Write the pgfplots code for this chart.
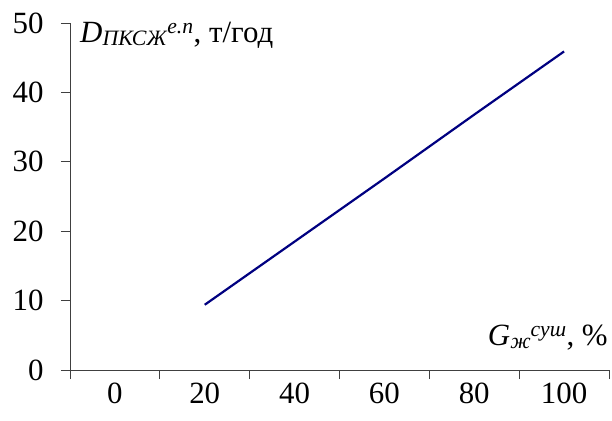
\documentclass[border=0pt]{standalone}
\usepackage{fontspec}
\setmainfont{Liberation Serif}
\usepackage{pgfplots}
\pgfplotsset{compat=1.18}
\definecolor{navyline}{RGB}{0,0,128}
\definecolor{axisgray}{RGB}{64,64,64}
\begin{document}
\fontsize{31}{36}\selectfont
\begin{tikzpicture}
\useasboundingbox (-70bp,-51bp) rectangle (542bp,370bp);
\begin{axis}[
  at={(0,0)}, anchor=south west,
  scale only axis, width=539bp, height=347bp,
  xmin=-0.5, xmax=5.5, ymin=0, ymax=50,
  axis lines=left,
  axis line style={draw=axisgray, line width=0.9bp, -},
  ytick={0,10,20,30,40,50},
  xtick={0,1,2,3,4,5}, xticklabels={0,20,40,60,80,100},
  minor xtick={-0.5,0.5,1.5,2.5,3.5,4.5,5.5},
  every major x tick/.append style={draw=none},
  tick align=outside,
  major tick length=9bp, minor tick length=9bp,
  tick style={draw=axisgray, line width=0.9bp},
  every tick label/.append style={font=\fontsize{31}{36}\selectfont},
  yticklabel style={/pgf/number format/assume math mode=true, xshift=-7bp},
  xticklabel style={yshift=-4bp, inner sep=0bp},
  clip=false,
]
\addplot[color=navyline, line width=2.2bp] coordinates {(1,9.4)(2,18.5)(3,27.6)(4,36.8)(5,45.9)};
\node[anchor=base west, inner sep=0pt] at (rel axis cs:0.0186,0.945) {\textit{D}{\fontsize{22}{24}\selectfont\raisebox{-3bp}{\textit{ПКСЖ}}}\textsuperscript{\textit{е.п}}, т/год};
\node[anchor=base east, inner sep=0pt] at (rel axis cs:0.998,0.072) {\textit{G}{\fontsize{22}{24}\selectfont\raisebox{-3bp}{\textit{ж}}}\textsuperscript{\textit{суш}}, \%};
\end{axis}
\end{tikzpicture}
\end{document}
